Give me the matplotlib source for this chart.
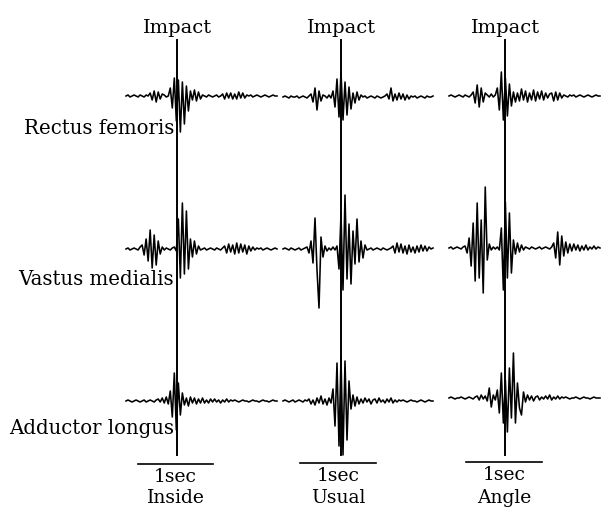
import matplotlib
matplotlib.use("Agg")
import matplotlib.pyplot as plt
import numpy as np

# conditions and muscles
conditions = ["Inside", "Usual", "Angle"]
muscles = ["Rectus femoris", "Vastus medialis", "Adductor longus"]

# EMG amplitude samples (arbitrary units, + is up)
rf_inside = [0, 1, -1, 0, 1, 0, -1, 1, 0, -1, 1, 0,
             3, -4, 5, -6, 4, -3, 2, 1, -1, 0,
             8, -12, 18, -25, 16, -36, 14, -28, 10, -15,
             5, -4, 6, -5, 4, -3,
             1, 0, -1, 1, 0, -1, 0, 1, -1, 0,
             2, -3, 3, -2, 3, -3, 2, -3, 4, -2, 3, -2, 1,
             0, 1, -1, 0, 1, 0, -1, 0, 1, 0, -1, 0, 1, 0, 0]
rf_usual = [0, 1, 0, -1, 1, 0, 0, 1, -1, 0, 1, 0, -1, 1,
            3, -5, 9, -13, 6, -4, 2, 1, -1, 2, -1,
            6, -10, 18, -20, 25, -23, 15, -18, 10, -12,
            4, -6, 5, -3, 2,
            0, 1, -1, 0, 1, 0, -1, 1, 0, -1, 0, 1,
            3, -2, 9, -4, 3, -3, 4, -2, 3, -3, 2, -2, 1,
            0, 1, -1, 0, 1, 0, -1, 1, 0, 0, 1]
rf_angle = [0, 1, 0, -1, 0, 1, 0, -1, 1, 0, -1, 1,
            4, -7, 11, -11, 8, -6, 3, 1, -1, 2, -1, 1,
            8, -14, 24, -24, 18, -20, 12, -10,
            4, -6, 3, -5, 7, -4, 5, -6, 3, -4, 6, -5, 4, -3, 5, -4, 3, -2, 2,
            3, -5, 4, -4, 3, -2,
            1, 0, -1, 1, 0, 1, -1, 0, 1, 0, -1, 0, 1, 0, -1, 0, 1, 0, 0]

vm_inside = [0, 1, -1, 0, 1, 0, -1, 2,
             4, -6, 10, -12, 19, -19, 14, -16, 8, -5,
             2, -1, 1, 0, -1, 1, 2, -2,
             30, -29, 46, -25, 38, -20, 10, -8, 8, -5, 3,
             -1, 0, 1, -1, 0, 1, 0, -1, 1, 0, -1, 1,
             3, -4, 5, -3, 4, -5, 6, -4, 5, -3, 4, -5, 3, -2, 2, -1, 1,
             0, 1, -1, 0, 1, 0, -1, 0, 1, 0]
vm_usual = [0, 1, 0, -1, 1, 0, -1, 0, 1, -1, 0, 1, 2,
            -4, 8, -14, 31, -21, -59, 12, -8,
            3, -2, 1, -1, 2, -1, 3,
            -20, 35, -41, 54, -30, 25, -35, 18, -15, 30, -13,
            8, -9, 4,
            -1, 0, 1, -1, 0, 1, 0, -1, 1, 0, -1, 0, 1,
            3, -4, 6, -3, 5, -4, 3, -5, 4, -3, 2, -4, 3, -3, 4, -2, 3, -2, 2,
            0, 1]
vm_angle = [0, 1, -1, 0, 1, 0, -1, 1, 2,
            -5, 10, -18, 25, -33, 45, -30, 28, -45, 61, -12,
            4, -2, 1, -1, 1, -2,
            20, -42, 46, -30, 35, -25,
            8, -6, 5, -4, 3, -2,
            1, 0, -1, 1, 0, -1, 0, 1, -1, 0, 1, 0, -1, 1,
            5, -10, 16, -17, 12, -8, 6, -5, 4,
            -3, 4, -2, 3, -3, 2, -2, 3, -2, 1, -1, 2, -1, 1, 0]

al_inside = [0, 1, 0, -1, 0, 1, 0, -1, 0, 1, -1, 0, 1, 0, -1, 1,
             2, -1, 3, -2, 4, -3,
             10, -16, 28, -29, 18, -14, 8,
             -4, 3, -5, 4, -2, 3, -3, 2, -2, 3, -2, 1, -2, 2, -1, 2, -1, 1, -2, 1, -1, 2, -1, 1,
             0, 1, 0, -1, 0, 1, 0, 0, -1, 0, 1, 0, 0, -1, 0, 1, 0, 0, -1, 0, 1, 0, 0]
al_usual = [0, 1, 0, -1, 0, 1, -1, 0, 1, 0, -1, 1, 0,
            2, -3, 1, -4, 3, -2, 5, -3, 2, -4, 3, -2,
            12, -25, 38, -45, 44, -54, 40, -39, 20,
            -8, 6, -5, 4, -3, 2,
            -2, 3, -1, 2, -3, 1, 2, -2, 3, -1, 1, -2, 2, -1, 3, -2, 1, -1, 1,
            0, 1, 0, -1, 0, 1, 0, 0, -1, 0, 1, 0, -1, 0, 1, 0, 0]
al_angle = [0, 1, 0, -1, 0, 0, 1, 0, -1, 0, 1, 0, -1, 1,
            2, -2, 3, -1, 2, -3, 10, -9, 3, -2,
            8, -15, 25, -25, 18, -34, 30, -20, 45, -25, 15, -10,
            -17, 6, -4,
            3, -2, 2, -3, 1, 2, -2, 1, -1, 2, -1, 3, -2, 1, -1, 2, -1, 1,
            0, 1, 0, -1, 0, 0, 1, 0, -1, 0, 1, 0, 0, -1, 0, 1, 0, 0, 0]

traces = [[rf_inside, rf_usual, rf_angle],
          [vm_inside, vm_usual, vm_angle],
          [al_inside, al_usual, al_angle]]

# layout in pixel units
col_x = [(126, 277), (283, 433), (449, 600)]
impact_x = [177, 341, 505]
row_y = [[96, 97, 96], [249, 249, 248], [401, 401, 398]]
bar_x = [(138, 213), (300, 376), (466, 542)]
bar_y = [464, 463, 462]

fig = plt.figure(figsize=(6.01, 5.07), dpi=100)
ax = fig.add_axes([0, 0, 1, 1])
ax.set_xlim(0, 601)
ax.set_ylim(507, 0)
ax.axis("off")

serif = dict(family="DejaVu Serif", color="black")

for r in range(3):
    for c in range(3):
        vals = np.array(traces[r][c], dtype=float)
        x = np.linspace(col_x[c][0], col_x[c][1], len(vals))
        ax.plot(x, row_y[r][c] - vals, color="black", lw=1.15)

for c in range(3):
    ax.plot([impact_x[c], impact_x[c]], [40, 455], color="black", lw=1.4)
    ax.text(impact_x[c], 33, "Impact", ha="center", va="baseline", fontsize=14, **serif)
    ax.plot(bar_x[c], [bar_y[c], bar_y[c]], color="black", lw=1.2)
    ax.text(np.mean(bar_x[c]), bar_y[c] + 18, "1sec", ha="center", va="baseline",
            fontsize=13.5, **serif)
    ax.text(np.mean(bar_x[c]), 503, conditions[c], ha="center", va="baseline",
            fontsize=13.5, **serif)

label_y = [134, 285, 434]
for r in range(3):
    ax.text(174, label_y[r], muscles[r], ha="right", va="baseline", fontsize=14.2, **serif)

fig.savefig("out.png", dpi=100)
